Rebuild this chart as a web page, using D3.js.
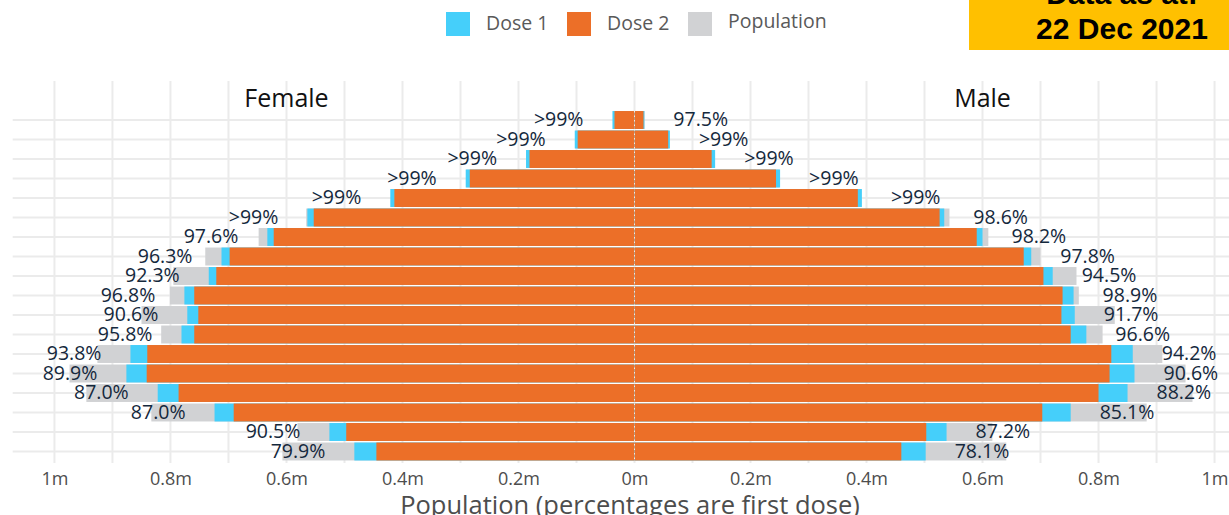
<!DOCTYPE html>
<html>
<head>
<meta charset="utf-8">
<script src="https://cdn.jsdelivr.net/npm/d3@7"></script>
<style>
  html, body { margin: 0; padding: 0; background: #fff; overflow: hidden; }
  svg { display: block; }
</style>
</head>
<body>
<svg id="chart" width="1229" height="515"></svg>
<script>
// ---- data (millions), rows top (oldest) to bottom ----
const ageGroups = ["95+","90-94","85-89","80-84","75-79","70-74","65-69","60-64","55-59","50-54","45-49","40-44","35-39","30-34","25-29","20-24","16-19","12-15"];

const femalePop   = [0.037, 0.102, 0.186, 0.290, 0.419, 0.566, 0.648, 0.740, 0.795, 0.801, 0.850, 0.816, 0.926, 0.974, 0.945, 0.833, 0.581, 0.607];
const femaleDose1 = [0.038, 0.103, 0.187, 0.291, 0.421, 0.564, 0.633, 0.712, 0.734, 0.776, 0.771, 0.781, 0.869, 0.876, 0.822, 0.724, 0.526, 0.483];
const femaleDose2 = [0.0345,0.098, 0.181, 0.284, 0.414, 0.553, 0.622, 0.698, 0.721, 0.759, 0.752, 0.759, 0.840, 0.841, 0.786, 0.691, 0.497, 0.445];
const femaleLabels = [">99%",">99%",">99%",">99%",">99%",">99%","97.6%","96.3%","92.3%","96.8%","90.6%","95.8%","93.8%","89.9%","87.0%","87.0%","90.5%","79.9%"];

const malePop   = [0.0175,0.060, 0.138, 0.250, 0.391, 0.543, 0.610, 0.700, 0.762, 0.766, 0.828, 0.807, 0.910, 0.950, 0.962, 0.883, 0.617, 0.641];
const maleDose1 = [0.017, 0.061, 0.139, 0.251, 0.392, 0.534, 0.600, 0.684, 0.721, 0.757, 0.759, 0.779, 0.859, 0.862, 0.850, 0.752, 0.538, 0.502];
const maleDose2 = [0.0155,0.058, 0.133, 0.244, 0.385, 0.526, 0.590, 0.671, 0.705, 0.738, 0.736, 0.752, 0.822, 0.819, 0.800, 0.703, 0.503, 0.460];
const maleLabels = ["97.5%",">99%",">99%",">99%",">99%","98.6%","98.2%","97.8%","94.5%","98.9%","91.7%","96.6%","94.2%","90.6%","88.2%","85.1%","87.2%","78.1%"];

const tickValues = [-1, -0.8, -0.6, -0.4, -0.2, 0, 0.2, 0.4, 0.6, 0.8, 1];
const gridValues = d3.range(-10, 11).map(d => d / 10);
const legendItems = ["Dose 1", "Dose 2", "Population"];
const sideLabels = ["Female", "Male"];
const dateLines = ["Data as at:", "22 Dec 2021"];

// ---- style ----
const colDose1 = "#45cffa", colDose2 = "#ec6f28", colPop = "#d1d2d4";
const gridCol = "#ebebeb";
const labelCol = "#14283c";

const svg = d3.select("#chart");
const W = 1229, H = 515;
const panelTop = 81, panelBottom = 463;

const x = d3.scaleLinear().domain([-1.072, 1.072]).range([12.7, 1256.3]);
const y = d3.scaleBand().domain(ageGroups).range([110.25, 461.25]).paddingInner(0.08).paddingOuter(0.04);

// grid
const grid = svg.append("g");
grid.selectAll("line.v").data(gridValues).join("line")
  .attr("x1", d => x(d)).attr("x2", d => x(d))
  .attr("y1", panelTop).attr("y2", panelBottom)
  .attr("stroke", gridCol).attr("stroke-width", 2);
grid.selectAll("line.h").data(ageGroups).join("line")
  .attr("x1", x(-1.072)).attr("x2", W)
  .attr("y1", d => y(d) + y.bandwidth() / 2).attr("y2", d => y(d) + y.bandwidth() / 2)
  .attr("stroke", gridCol).attr("stroke-width", 2);

// bars
function drawSide(sign, pop, d1, d2, labels) {
  const g = svg.append("g");
  const layers = [[pop, colPop], [d1, colDose1], [d2, colDose2]];
  layers.forEach(([vals, col]) => {
    g.selectAll(null).data(ageGroups).join("rect")
      .attr("x", (d, i) => Math.min(x(0), x(sign * vals[i])))
      .attr("width", (d, i) => Math.abs(x(sign * vals[i]) - x(0)))
      .attr("y", d => y(d))
      .attr("height", y.bandwidth())
      .attr("fill", col);
  });
  g.selectAll("text").data(ageGroups).join("text")
    .attr("x", (d, i) => x(sign * (d1[i] + 0.05)))
    .attr("y", d => y(d) + y.bandwidth() / 2)
    .attr("dy", "0.33em")
    .attr("text-anchor", sign < 0 ? "end" : "start")
    .attr("font-family", "'Open Sans', sans-serif")
    .attr("font-size", 19.5)
    .attr("fill", labelCol)
    .text((d, i) => labels[i]);
}
drawSide(-1, femalePop, femaleDose1, femaleDose2, femaleLabels);
drawSide(1, malePop, maleDose1, maleDose2, maleLabels);

// center dotted line
svg.append("line")
  .attr("x1", x(0)).attr("x2", x(0))
  .attr("y1", y(ageGroups[0])).attr("y2", y(ageGroups[ageGroups.length - 1]) + y.bandwidth())
  .attr("stroke", "#ffffff").attr("stroke-opacity", 0.8)
  .attr("stroke-width", 1).attr("stroke-dasharray", "1.5,3");

// side labels
svg.selectAll("text.side").data(sideLabels).join("text")
  .attr("class", "side")
  .attr("x", (d, i) => x(i === 0 ? -0.6 : 0.6))
  .attr("y", 107)
  .attr("text-anchor", "middle")
  .attr("font-family", "'Open Sans', sans-serif")
  .attr("font-size", 25)
  .attr("fill", "#111")
  .text(d => d);

// x axis
const axis = d3.axisBottom(x).tickValues(tickValues).tickSize(0)
  .tickFormat(d => (Math.round(Math.abs(d) * 10) / 10) + "m");
const ax = svg.append("g").attr("transform", `translate(0,${panelBottom})`).call(axis);
ax.select(".domain").remove();
ax.selectAll("text")
  .attr("y", 9).attr("dy", "0.71em")
  .attr("font-family", "'Open Sans', sans-serif")
  .attr("font-size", 18)
  .attr("fill", "#4d4d4d");

svg.append("text")
  .attr("x", 630).attr("y", 514)
  .attr("text-anchor", "middle")
  .attr("font-family", "'Open Sans', sans-serif")
  .attr("font-size", 25.5)
  .attr("fill", "#4d4d4d")
  .text("Population (percentages are first dose)");

// legend
const legendCols = [colDose1, colDose2, colPop];
const legendX = [446, 567, 688];
const lg = svg.append("g");
legendItems.forEach((t, i) => {
  lg.append("rect").attr("x", legendX[i]).attr("y", 12).attr("width", 24).attr("height", 24).attr("fill", legendCols[i]);
  lg.append("text")
    .attr("x", legendX[i] + 40).attr("y", i === 2 ? 28 : 30)
    .attr("font-family", "'Open Sans', sans-serif")
    .attr("font-size", 19.5)
    .attr("fill", "#595959")
    .text(t);
});

// date box
svg.append("rect").attr("x", 969).attr("y", 0).attr("width", 260).attr("height", 50).attr("fill", "#ffc000");
svg.selectAll("text.date").data(dateLines).join("text")
  .attr("class", "date")
  .attr("x", 1122)
  .attr("y", (d, i) => i === 0 ? 4 : 39)
  .attr("text-anchor", "middle")
  .attr("font-family", "'Liberation Sans', Arial, sans-serif")
  .attr("font-weight", "bold")
  .attr("font-size", 30)
  .attr("fill", "#000")
  .text(d => d);
</script>
</body>
</html>
